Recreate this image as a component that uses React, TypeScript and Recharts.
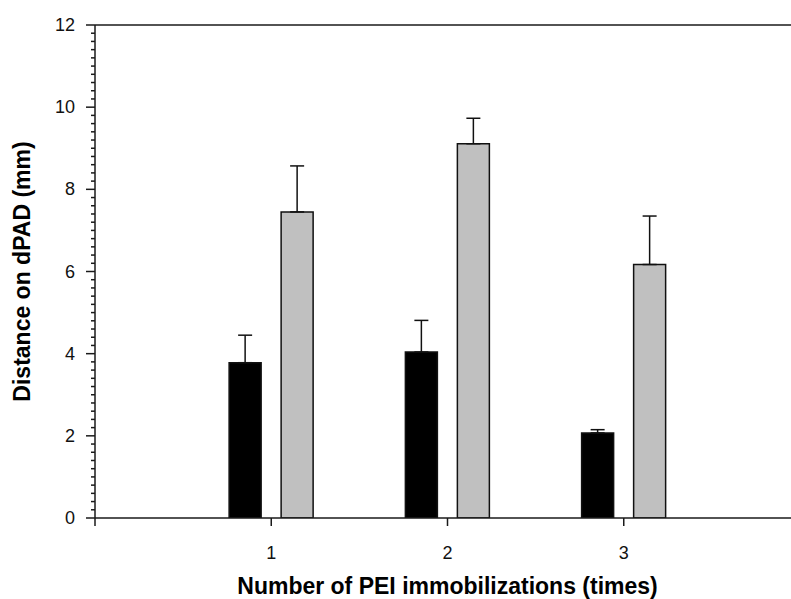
import React from 'react';
import { BarChart, Bar, XAxis, YAxis, ErrorBar, ReferenceLine, Label } from 'recharts';

const categories = [1, 2, 3];
const blackMeans = [3.78, 4.04, 2.07];
const blackErr = [0.67, 0.77, 0.08];
const grayMeans = [7.45, 9.11, 6.17];
const grayErr = [1.12, 0.62, 1.18];

const xTicks = [0, 1, 2, 3, 4];
const xTickLabels = ['', '1', '2', '3', ''];
const yMajorTicks = [0, 2, 4, 6, 8, 10, 12];
const yMinorStep = 0.2;

const data = categories.map((c, i) => ({
    x: c,
    black: blackMeans[i],
    blackErr: [0, blackErr[i]],
    gray: grayMeans[i],
    grayErr: [0, grayErr[i]],
}));

const yTicks = Array.from({ length: Math.round(12 / yMinorStep) + 1 }, (_, i) => +(i * yMinorStep).toFixed(2));

const FONT = '"Liberation Sans", Arial, sans-serif';
const AXIS = '#1a1a1a';

const YTick = (props: any) => {
    const { x, y, payload } = props;
    const v = payload.value;
    const major = yMajorTicks.some((m) => Math.abs(m - v) < 1e-6);
    const axisX = x + 9 + 11;
    const len = major ? 9 : 4;
    return (
        <g>
            <line x1={axisX - len} x2={axisX} y1={y} y2={y} stroke={AXIS} strokeWidth={1.5} />
            {major && (
                <text x={axisX - 20} y={y} textAnchor="end" dominantBaseline="central" fontSize={18} fontFamily={FONT} fill="#111">
                    {v}
                </text>
            )}
        </g>
    );
};

const XTick = (props: any) => {
    const { x, payload, index } = props;
    return (
        <text x={x} y={553} textAnchor="middle" dominantBaseline="central" fontSize={18} fontFamily={FONT} fill="#111">
            {xTickLabels[index] ?? ''}
        </text>
    );
};

const YTitle = (props: any) => {
    const { viewBox } = props;
    const cx = viewBox.x + 22;
    const cy = viewBox.y + viewBox.height / 2;
    return (
        <text x={cx} y={cy} transform={`rotate(-90 ${cx} ${cy})`} textAnchor="middle" dominantBaseline="central" fontSize={23} fontWeight="bold" fontFamily={FONT} fill="#000">
            Distance on dPAD (mm)
        </text>
    );
};

const XTitle = (props: any) => {
    const { viewBox } = props;
    const cx = viewBox.x + viewBox.width / 2;
    const cy = viewBox.y + 68;
    return (
        <text x={cx} y={cy} textAnchor="middle" dominantBaseline="central" fontSize={23} fontWeight="bold" fontFamily={FONT} fill="#000">
            Number of PEI immobilizations (times)
        </text>
    );
};

const App: React.FC = () => {
    return (
        <div style={{ position: 'absolute', left: 0, top: 0, width: 791, height: 599, overflow: 'hidden', background: '#fff' }}>
            <BarChart
                width={810}
                height={599}
                data={data}
                margin={{ top: 25, right: 10, bottom: 0, left: 0 }}
                barSize={32}
                barGap={20}
            >
                <XAxis
                    dataKey="x"
                    type="number"
                    domain={[0, 4]}
                    ticks={xTicks}
                    interval={0}
                    height={81}
                    tickSize={8}
                    stroke={AXIS}
                    strokeWidth={1.5}
                    tickLine={{ stroke: AXIS, strokeWidth: 1.5 }}
                    tick={<XTick />}
                    allowDataOverflow
                >
                    <Label content={<XTitle />} />
                </XAxis>
                <YAxis
                    type="number"
                    domain={[0, 12]}
                    ticks={yTicks}
                    interval={0}
                    width={95}
                    tickSize={9}
                    tickMargin={11}
                    tickLine={false}
                    stroke={AXIS}
                    strokeWidth={1.5}
                    tick={<YTick />}
                    allowDataOverflow
                >
                    <Label content={<YTitle />} />
                </YAxis>
                <ReferenceLine y={12} stroke={AXIS} strokeWidth={1.5} />
                <Bar dataKey="black" fill="#000000" stroke="#111" strokeWidth={1.5} isAnimationActive={false}>
                    <ErrorBar dataKey="blackErr" width={7} stroke="#111" strokeWidth={1.5} isAnimationActive={false} />
                </Bar>
                <Bar dataKey="gray" fill="#c0c0c0" stroke="#111" strokeWidth={1.5} isAnimationActive={false}>
                    <ErrorBar dataKey="grayErr" width={7} stroke="#111" strokeWidth={1.5} isAnimationActive={false} />
                </Bar>
            </BarChart>
        </div>
    );
};

export default App;
